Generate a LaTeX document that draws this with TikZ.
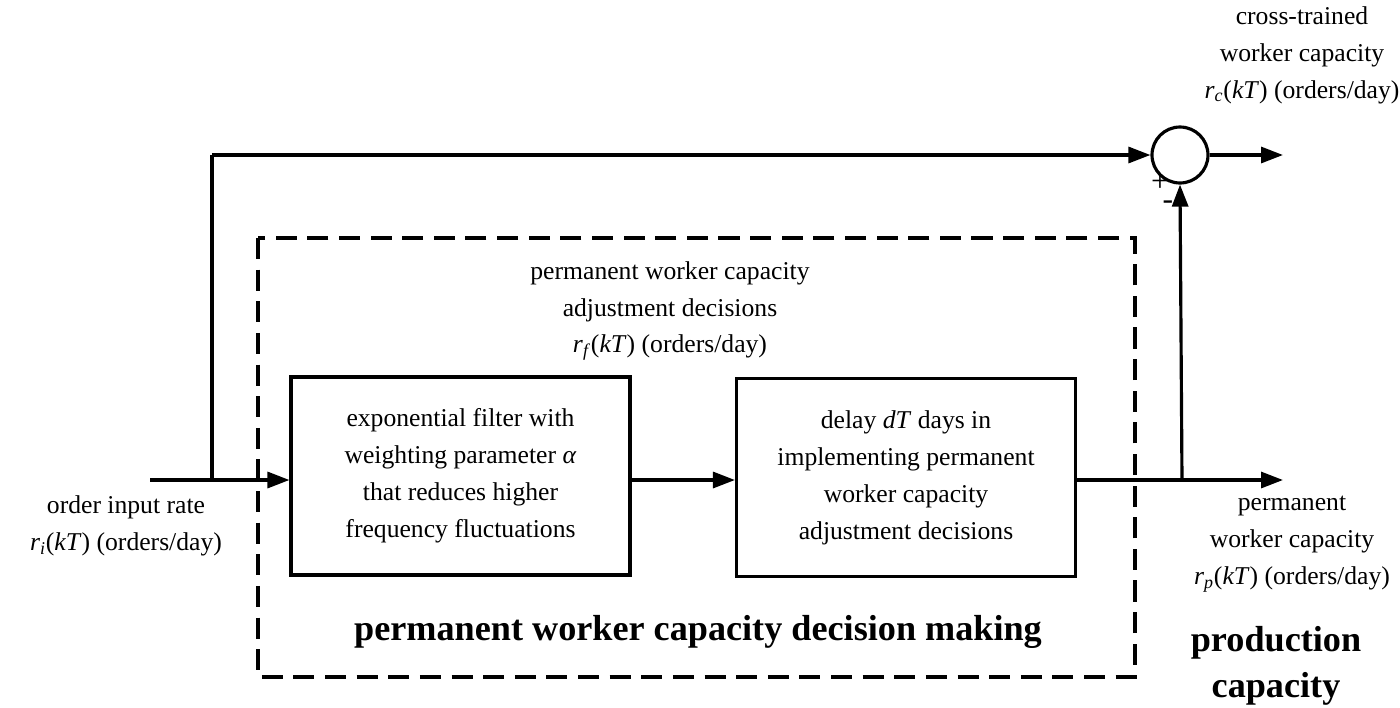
\documentclass[tikz,border=0pt]{standalone}
\usepackage{fontspec}
\setmainfont{Liberation Serif}
\usetikzlibrary{arrows.meta,positioning}
\newcommand{\sv}[1]{\textit{r}\textsubscript{\textit{#1}}(\textit{kT})}
\tikzset{
  blockbox/.style={draw, line width=1.8pt, minimum width=6.78cm, minimum height=3.96cm, align=center},
  sig/.style={line width=1.8pt, -{Triangle[length=0.44cm,width=0.32cm]}},
  wire/.style={line width=1.8pt},
  lbl/.style={align=center, inner sep=0pt},
  signlbl/.style={inner sep=0pt, font=\fontsize{18}{20}\selectfont},
}
\begin{document}
\begin{tikzpicture}[x=0.02cm,y=-0.02cm, font=\fontsize{14.6}{21}\selectfont]
\useasboundingbox (0,0) rectangle (1400,707);
% decision making frame
\draw[line width=1.8pt, dash pattern=on 12pt off 6pt] (258,238) rectangle (1135,677);
\node[blockbox] (filter) at (460.5,476) {exponential filter with\\weighting parameter \textit{α}\\that reduces higher\\frequency fluctuations};
\node[blockbox] (delay) at (906,477.5) {delay \textit{dT} days in\\implementing permanent\\worker capacity\\adjustment decisions};
\node[circle, draw, line width=1.8pt, minimum size=1.12cm, inner sep=0pt] (sum) at (1180,155) {};
\coordinate (in) at (150,480);
\coordinate (split) at (212,480);
\coordinate (corner) at (212,155);
\coordinate (tap) at (1182,480);
\coordinate (out) at (1283,480);
\coordinate (outc) at (1283,155);
% signals
\draw[sig] (in) -- (filter.west |- in);
\draw[wire] (split) -- (corner);
\draw[sig] (corner) -- (sum.west);
\draw[sig] (filter.east |- in) -- (delay.west |- in);
\draw[sig] (delay.east |- in) -- (out);
\draw[sig] (tap) -- (sum.south);
\draw[sig] (sum.east) -- (outc);
\node[signlbl] (plus) at (1160,183) {+};
\node[signlbl] (minus) at (1168,205) {-};
% labels
\node[lbl] (inlbl) at (126,526) {order input rate\\\sv{i} (orders/day)};
\node[lbl] (rflbl) at (670,311) {permanent worker capacity\\adjustment decisions\\\sv{f} (orders/day)};
\node[lbl] (rclbl) at (1302,55) {cross-trained\\worker capacity\\\sv{c} (orders/day)};
\node[lbl] (rplbl) at (1292,544) {permanent\\worker capacity\\\sv{p} (orders/day)};
\node[lbl, font=\fontsize{20.6}{24}\selectfont\bfseries] (dmlbl) at (698,632) {permanent worker capacity decision making};
\node[lbl, font=\fontsize{20.6}{26.5}\selectfont\bfseries] (pclbl) at (1276,666) {production\\capacity};
\end{tikzpicture}
\end{document}
